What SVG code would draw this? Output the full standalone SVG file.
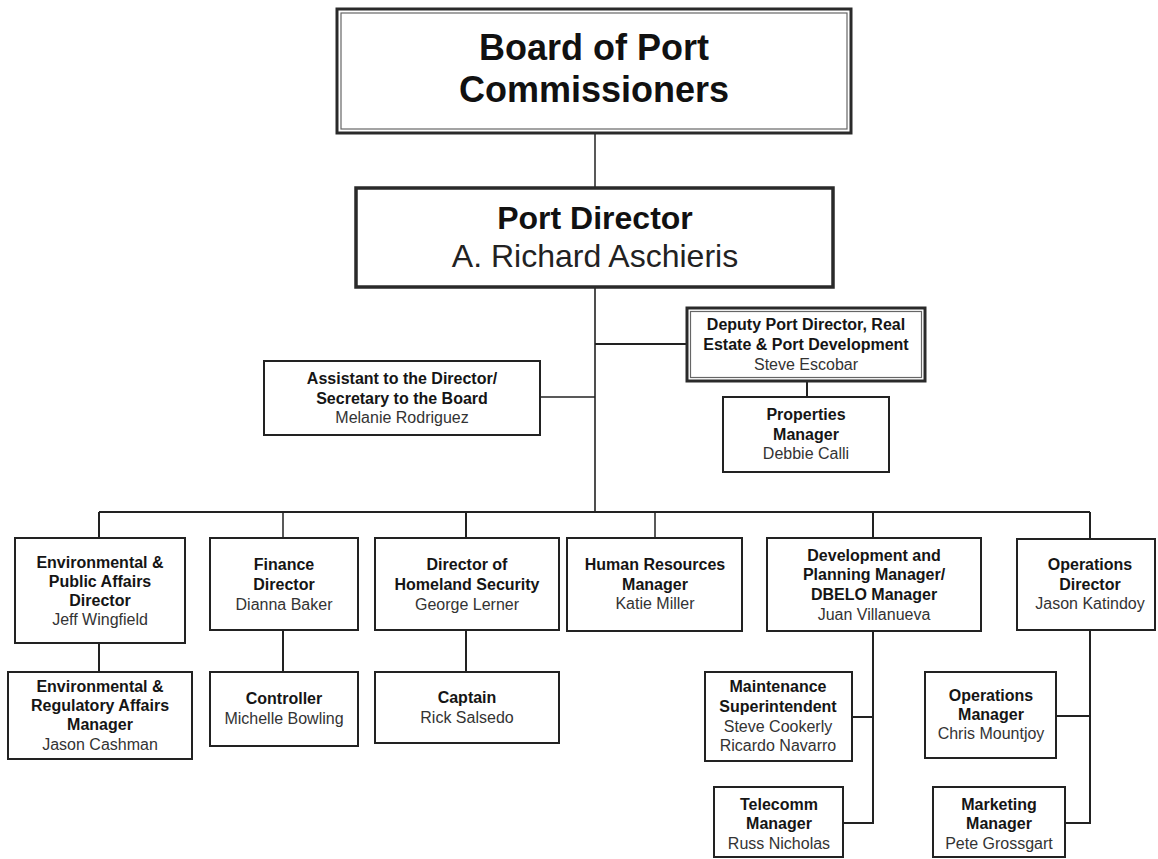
<svg xmlns="http://www.w3.org/2000/svg" width="1158" height="859" viewBox="0 0 1158 859">
<style>
.box{fill:#fff;stroke:#222;stroke-width:2}
.thick{fill:#fff;stroke:#2a2a2a;stroke-width:3.5}
.outer{fill:#fff;stroke:#2a2a2a;stroke-width:3}
.inner{fill:none;stroke:#666;stroke-width:1.2}
.conn line,.conn polyline{stroke:#222;stroke-width:2;fill:none}
text{font-family:"Liberation Sans",Arial,Helvetica,sans-serif;text-anchor:middle}
.t{font-size:16px;font-weight:bold;fill:#151515}
.n{font-size:16px;fill:#333}
.big{font-size:36px;font-weight:bold;fill:#111}
.pd{font-size:32px;font-weight:bold;fill:#111}
.pdn{font-size:32px;fill:#222}
</style>
<rect width="1158" height="859" fill="#fff"/>
<g id="connectors" class="conn">
<line x1="595" y1="133" x2="595" y2="188" style="stroke-width:1.5"/>
<line x1="595" y1="287" x2="595" y2="512" style="stroke-width:1.6"/>
<line x1="595" y1="344" x2="687" y2="344"/>
<line x1="540" y1="397" x2="595" y2="397" style="stroke-width:1.6"/>
<line x1="807" y1="381" x2="807" y2="397"/>
<line x1="99" y1="512" x2="1090" y2="512"/>
<line x1="99" y1="512" x2="99" y2="538"/>
<line x1="283" y1="512" x2="283" y2="538" style="stroke-width:1.5"/>
<line x1="466" y1="512" x2="466" y2="538"/>
<line x1="655" y1="512" x2="655" y2="538" style="stroke-width:1.5"/>
<line x1="873" y1="512" x2="873" y2="538"/>
<line x1="1090" y1="512" x2="1090" y2="539"/>
<line x1="99" y1="643" x2="99" y2="672"/>
<line x1="283" y1="630" x2="283" y2="672"/>
<line x1="466" y1="630" x2="466" y2="672"/>
<polyline points="873,631 873,823 843,823"/>
<line x1="852" y1="717" x2="873" y2="717"/>
<polyline points="1090,630 1090,823 1065,823"/>
<line x1="1056" y1="716" x2="1090" y2="716"/>
</g>
<g id="board">
<rect class="outer" x="337" y="9" width="514" height="124"/>
<rect class="inner" x="341" y="13" width="506" height="116"/>
<text class="big" x="594" y="60">Board of Port</text>
<text class="big" x="594" y="102">Commissioners</text>
</g>
<g id="port-director">
<rect class="thick" x="356" y="188" width="477" height="99"/>
<text class="pd" x="595" y="229">Port Director</text>
<text class="pdn" x="595" y="267">A. Richard Aschieris</text>
</g>
<g id="deputy">
<rect class="outer" x="687" y="308" width="238" height="73"/>
<rect class="inner" x="690.5" y="311.5" width="231" height="66"/>
<text class="t" x="806" y="330">Deputy Port Director, Real</text>
<text class="t" x="806" y="350">Estate &amp; Port Development</text>
<text class="n" x="806" y="370">Steve Escobar</text>
</g>
<g id="assistant">
<rect class="box" x="264" y="361" width="276" height="74"/>
<text class="t" x="402" y="384">Assistant to the Director/</text>
<text class="t" x="402" y="404">Secretary to the Board</text>
<text class="n" x="402" y="423">Melanie Rodriguez</text>
</g>
<g id="properties">
<rect class="box" x="723" y="397" width="166" height="75"/>
<text class="t" x="806" y="420">Properties</text>
<text class="t" x="806" y="440">Manager</text>
<text class="n" x="806" y="459">Debbie Calli</text>
</g>
<g id="env-public">
<rect class="box" x="15" y="538" width="170" height="105"/>
<text class="t" x="100" y="568">Environmental &amp;</text>
<text class="t" x="100" y="587">Public Affairs</text>
<text class="t" x="100" y="606">Director</text>
<text class="n" x="100" y="625">Jeff Wingfield</text>
</g>
<g id="finance">
<rect class="box" x="210" y="538" width="148" height="92"/>
<text class="t" x="284" y="570">Finance</text>
<text class="t" x="284" y="590">Director</text>
<text class="n" x="284" y="610">Dianna Baker</text>
</g>
<g id="homeland">
<rect class="box" x="375" y="538" width="184" height="92"/>
<text class="t" x="467" y="570">Director of</text>
<text class="t" x="467" y="590">Homeland Security</text>
<text class="n" x="467" y="610">George Lerner</text>
</g>
<g id="hr">
<rect class="box" x="567" y="538" width="175" height="93"/>
<text class="t" x="655" y="570">Human Resources</text>
<text class="t" x="655" y="590">Manager</text>
<text class="n" x="655" y="609">Katie Miller</text>
</g>
<g id="development">
<rect class="box" x="767" y="538" width="214" height="93"/>
<text class="t" x="874" y="561">Development and</text>
<text class="t" x="874" y="580">Planning Manager/</text>
<text class="t" x="874" y="600">DBELO Manager</text>
<text class="n" x="874" y="620">Juan Villanueva</text>
</g>
<g id="operations">
<rect class="box" x="1017" y="539" width="138" height="91"/>
<text class="t" x="1090" y="570">Operations</text>
<text class="t" x="1090" y="590">Director</text>
<text class="n" x="1090" y="609">Jason Katindoy</text>
</g>
<g id="env-regulatory">
<rect class="box" x="8" y="672" width="184" height="87"/>
<text class="t" x="100" y="692">Environmental &amp;</text>
<text class="t" x="100" y="711">Regulatory Affairs</text>
<text class="t" x="100" y="730">Manager</text>
<text class="n" x="100" y="750">Jason Cashman</text>
</g>
<g id="controller">
<rect class="box" x="210" y="672" width="148" height="74"/>
<text class="t" x="284" y="704">Controller</text>
<text class="n" x="284" y="724">Michelle Bowling</text>
</g>
<g id="captain">
<rect class="box" x="375" y="672" width="184" height="71"/>
<text class="t" x="467" y="703">Captain</text>
<text class="n" x="467" y="723">Rick Salsedo</text>
</g>
<g id="maintenance">
<rect class="box" x="705" y="672" width="147" height="89"/>
<text class="t" x="778" y="692">Maintenance</text>
<text class="t" x="778" y="712">Superintendent</text>
<text class="n" x="778" y="732">Steve Cookerly</text>
<text class="n" x="778" y="751">Ricardo Navarro</text>
</g>
<g id="telecomm">
<rect class="box" x="714" y="787" width="129" height="70"/>
<text class="t" x="779" y="810">Telecomm</text>
<text class="t" x="779" y="829">Manager</text>
<text class="n" x="779" y="849">Russ Nicholas</text>
</g>
<g id="ops-manager">
<rect class="box" x="925" y="672" width="131" height="86"/>
<text class="t" x="991" y="701">Operations</text>
<text class="t" x="991" y="720">Manager</text>
<text class="n" x="991" y="739">Chris Mountjoy</text>
</g>
<g id="marketing">
<rect class="box" x="933" y="787" width="132" height="70"/>
<text class="t" x="999" y="810">Marketing</text>
<text class="t" x="999" y="829">Manager</text>
<text class="n" x="999" y="849">Pete Grossgart</text>
</g>
</svg>
